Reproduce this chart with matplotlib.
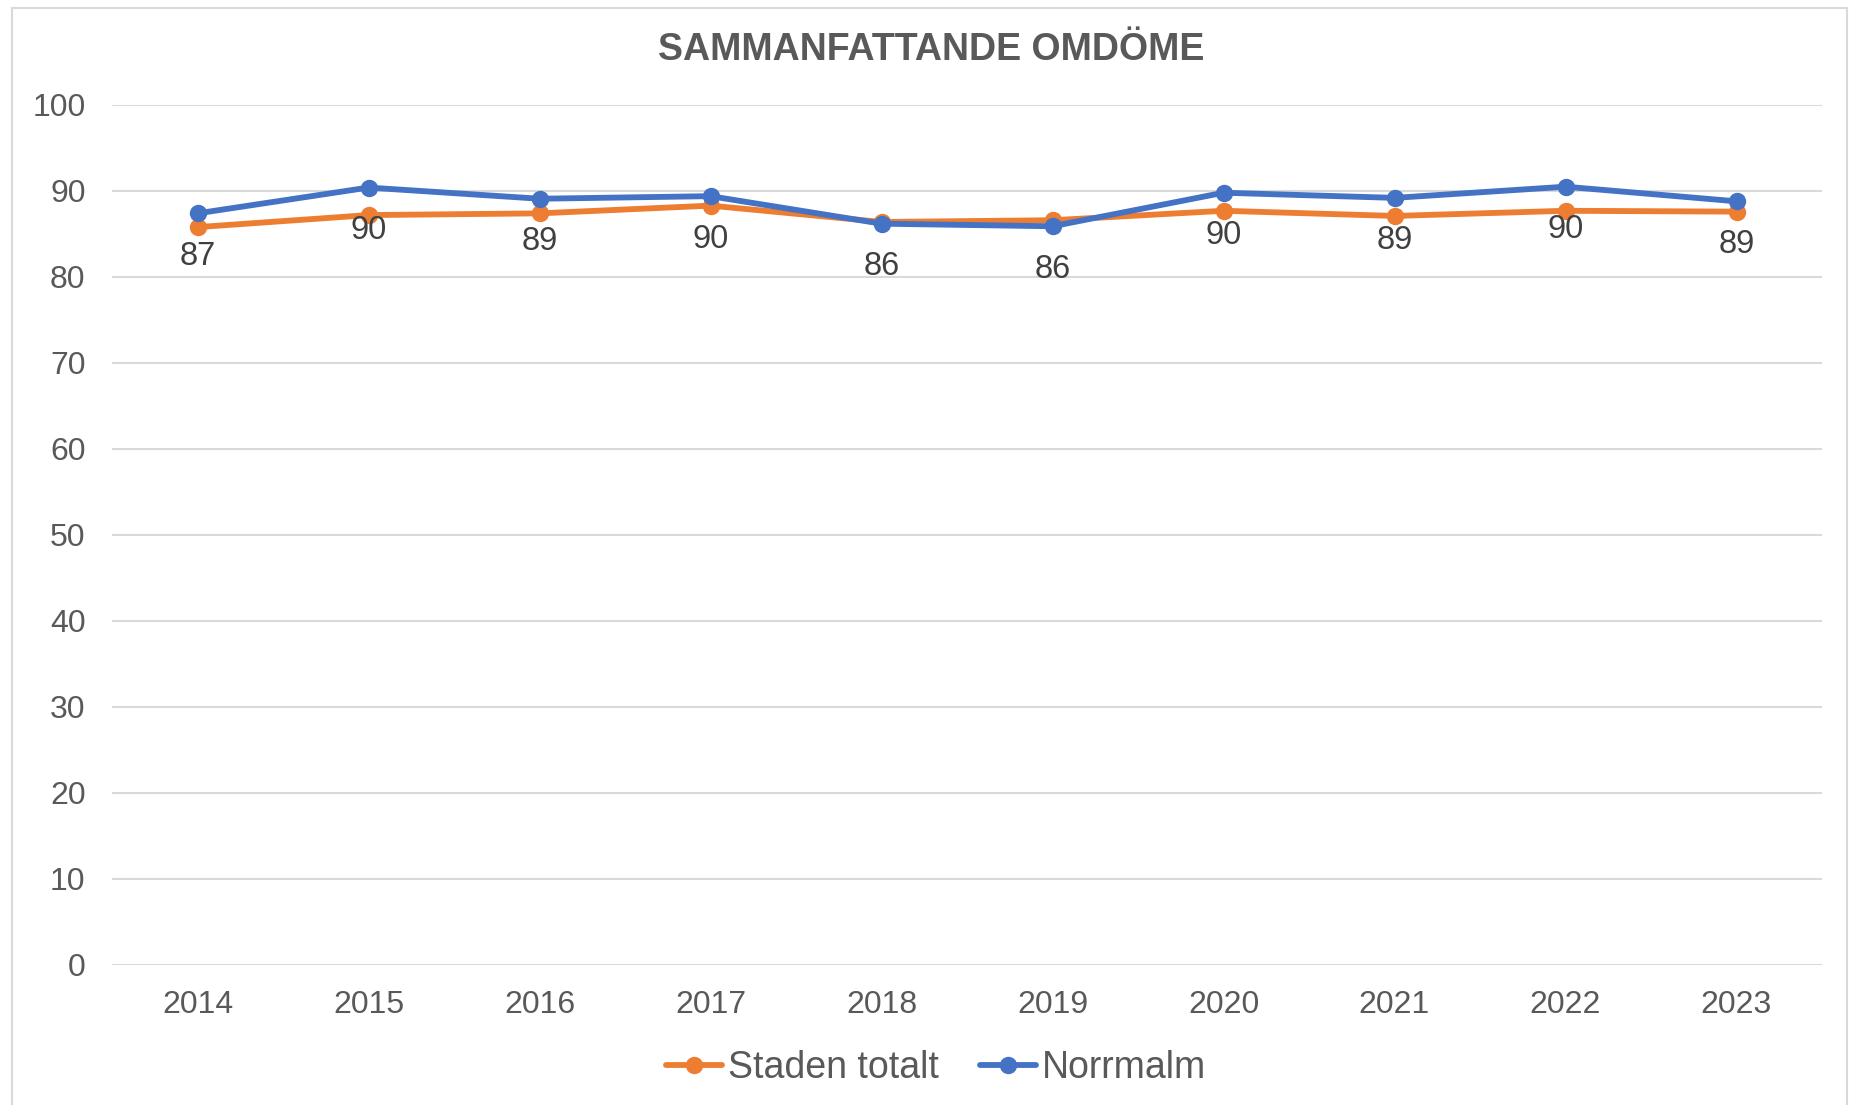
import matplotlib
matplotlib.use("Agg")
import matplotlib.pyplot as plt
from matplotlib.patches import Rectangle

plt.rcParams['font.family'] = ['Liberation Sans', 'DejaVu Sans']

years = ["2014", "2015", "2016", "2017", "2018", "2019", "2020", "2021", "2022", "2023"]
staden_totalt = [85.8, 87.2, 87.4, 88.3, 86.4, 86.6, 87.7, 87.1, 87.7, 87.6]
norrmalm = [87.4, 90.4, 89.1, 89.4, 86.2, 85.9, 89.8, 89.2, 90.5, 88.8]
norrmalm_labels = ["87", "90", "89", "90", "86", "86", "90", "89", "90", "89"]
yticks = [0, 10, 20, 30, 40, 50, 60, 70, 80, 90, 100]

ORANGE = "#ED7D31"
BLUE = "#4472C4"
TXT = "#595959"
GRID = "#D9D9D9"

fig = plt.figure(figsize=(18.53, 11.05), dpi=100)
fig.patches.append(Rectangle((12/1853, -0.01), (1847-12)/1853, 1 - 8/1105 + 0.01,
                             transform=fig.transFigure, fill=False, edgecolor=GRID, linewidth=1.5))

ax = fig.add_axes([112/1853, 1 - 965/1105, (1822-112)/1853, (965-105)/1105])
x = list(range(len(years)))
ax.plot(x, staden_totalt, color=ORANGE, linewidth=4.2, marker='o', markersize=11.5,
        label="Staden totalt", zorder=3, solid_capstyle='round')
ax.plot(x, norrmalm, color=BLUE, linewidth=4.2, marker='o', markersize=11.5,
        label="Norrmalm", zorder=4, solid_capstyle='round')

for xi, v, lab in zip(x, norrmalm, norrmalm_labels):
    ax.annotate(lab, (xi, v), xytext=(0, -43), textcoords='offset pixels',
                ha='center', va='center', fontsize=23.5, color="#404040", zorder=5)

ax.set_xlim(-0.5, len(years) - 0.5)
ax.set_ylim(0, 100)
ax.set_yticks(yticks)
ax.set_yticklabels([str(t) for t in yticks])
ax.set_xticks(x)
ax.set_xticklabels(years)
ax.tick_params(axis='both', length=0, labelsize=23, labelcolor=TXT)
ax.tick_params(axis='x', pad=18)
ax.tick_params(axis='y', pad=19)
ax.grid(axis='y', color=GRID, linewidth=1.5)
ax.set_axisbelow(True)
for s in ax.spines.values():
    s.set_visible(False)

fig.text(0.5025, 1 - 50/1105, "SAMMANFATTANDE OMDÖME", ha='center', va='center',
         fontsize=27, fontweight='bold', color=TXT)

leg = fig.legend(loc='center', bbox_to_anchor=(0.505, 1 - 1068/1105), ncol=2, frameon=False,
                 fontsize=27, handlelength=1.5, handletextpad=0.15, columnspacing=1.1,
                 labelcolor=TXT)

fig.savefig("out.png", dpi=100, facecolor='white')
